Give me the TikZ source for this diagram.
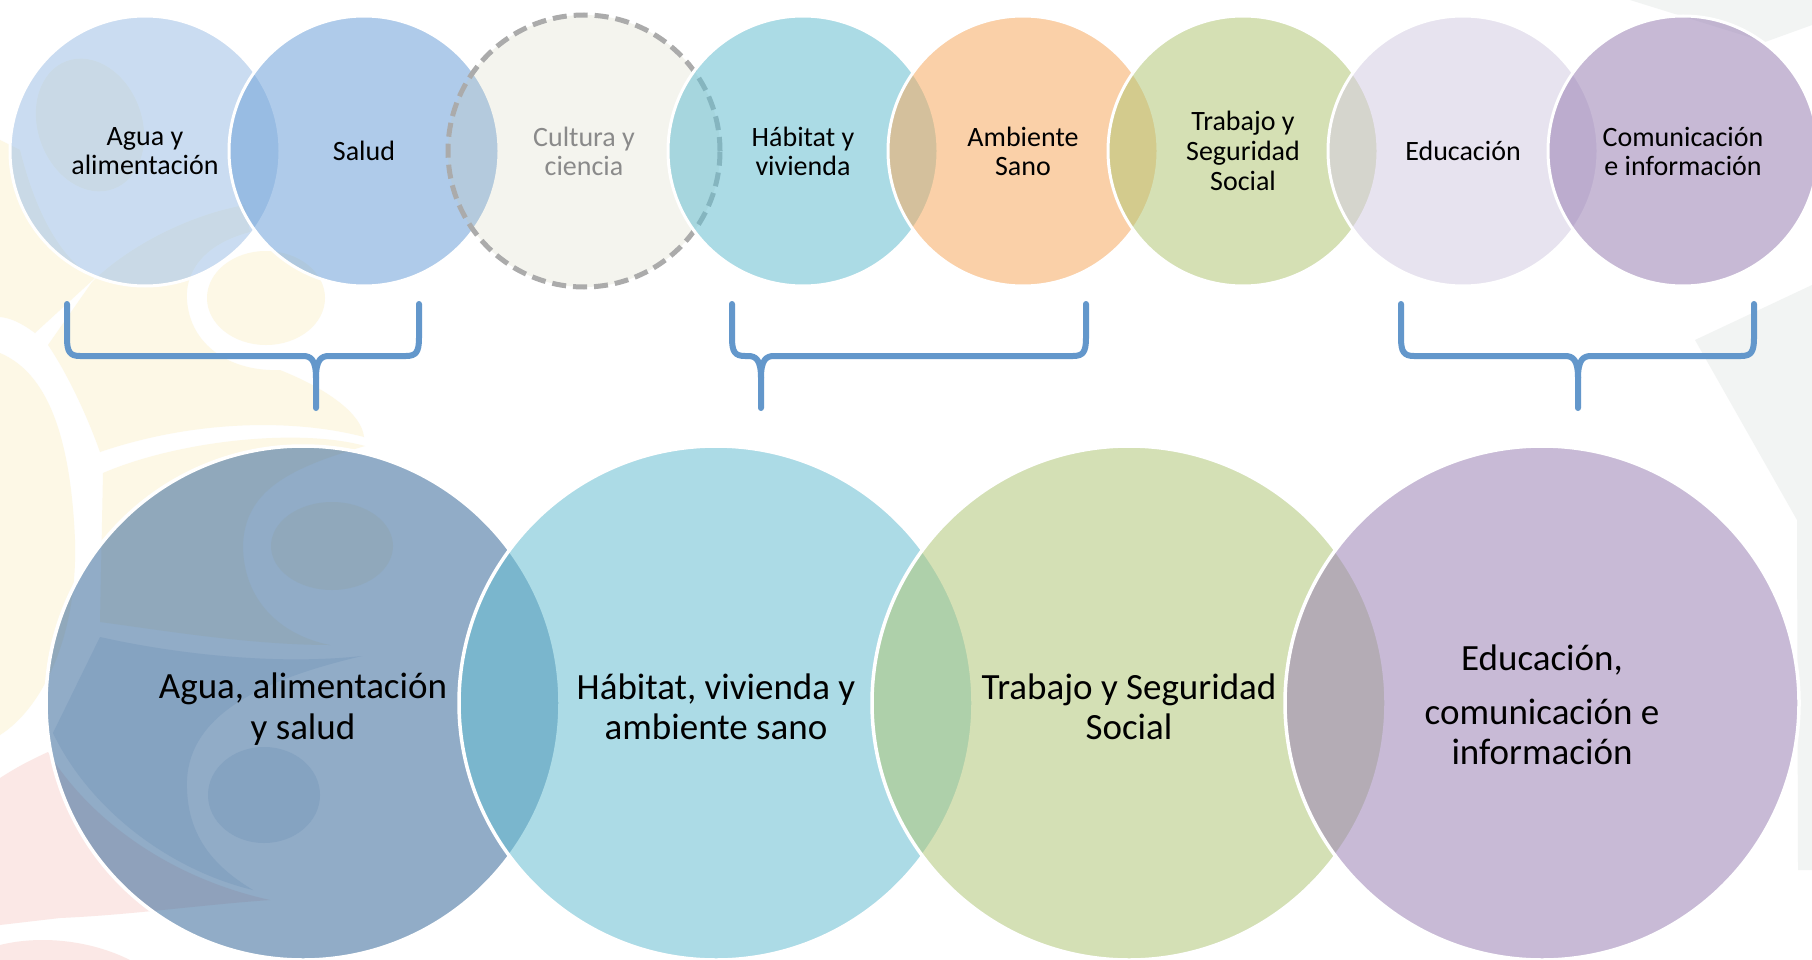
\documentclass[tikz,border=0pt]{standalone}
\usepackage{fontspec}
\setmainfont{Carlito}
\definecolor{cAgua}{HTML}{A0C1E6}
\definecolor{cSalud}{HTML}{6FA2D9}
\definecolor{cCult}{HTML}{C8C8AA}
\definecolor{cHab}{HTML}{66BED1}
\definecolor{cAmb}{HTML}{F6AB61}
\definecolor{cTrab}{HTML}{B3C777}
\definecolor{cEdu}{HTML}{D5CCE2}
\definecolor{cCom}{HTML}{9980B4}
\definecolor{bAgua}{HTML}{376899}
\definecolor{bHab}{HTML}{68BFD3}
\definecolor{bTrab}{HTML}{B1C779}
\definecolor{bEdu}{HTML}{9B83B6}
\definecolor{brk}{HTML}{6397CB}
\definecolor{dashgray}{HTML}{ABABAB}
\definecolor{culttext}{HTML}{8A8A8A}
\definecolor{wmY}{HTML}{FDF8E6}
\definecolor{wmP}{HTML}{FBE8E6}
\definecolor{wmB}{HTML}{E4EBF3}
\definecolor{wmG}{HTML}{F2F4F3}
\tikzset{
  topc/.style={circle, minimum size=270pt, inner sep=0pt, draw=white, line width=3pt,
    fill opacity=0.55},
  bigc/.style={circle, minimum size=514pt, inner sep=0pt, draw=white, line width=3.5pt,
    fill opacity=0.55},
  ttop/.style={align=center, inner sep=0pt, font=\fontsize{28}{29}\selectfont},
  tbig/.style={align=center, inner sep=0pt, font=\fontsize{37}{40.5}\selectfont},
  brace/.style={draw=brk, line width=6pt, line cap=round, line join=round},
}
\newcommand\mybrace[3]{%
  \draw[brace] (#1,304) -- (#1,338) .. controls (#1,352) and (#1+3,356) .. (#1+13,356)
     -- (#2-13,356) .. controls (#2-5,356) and (#2,360) .. (#2,378) -- (#2,408);
  \draw[brace] (#3,304) -- (#3,338) .. controls (#3,352) and (#3-3,356) .. (#3-13,356)
     -- (#2+13,356) .. controls (#2+5,356) and (#2,360) .. (#2,378);
}
\begin{document}
\begin{tikzpicture}[x=1pt,y=-1pt]
\useasboundingbox (0,0) rectangle (1812,960);
\clip (0,0) rectangle (1812,960);
\fill[white] (0,0) rectangle (1812,960);
% ---- watermark (background) ----
\fill[wmY, rotate around={20:(90,125)}] (90,125) ellipse [x radius=52, y radius=68];
\fill[wmY] (0,140) -- (20,150) .. controls (40,230) and (70,265) .. (95,278)
   -- (35,333) .. controls (20,322) and (10,318) .. (0,317) -- cycle;
\fill[wmY] (48,345) -- (92,282) .. controls (130,245) and (190,215) .. (245,205)
   -- (250,232) .. controls (200,245) and (185,275) .. (187,300)
   .. controls (190,345) and (230,372) .. (280,370)
   .. controls (330,390) and (362,415) .. (364,437)
   .. controls (300,420) and (200,418) .. (100,452)
   .. controls (85,410) and (65,370) .. (48,345) -- cycle;
\fill[wmY] (266,298) ellipse [x radius=59, y radius=47];
\fill[wmY] (0,353) .. controls (40,370) and (70,420) .. (75,540)
   .. controls (78,640) and (40,710) .. (0,735) -- cycle;
\fill[wmY] (103,473) .. controls (180,440) and (300,428) .. (365,446)
   .. controls (290,468) and (245,490) .. (243,545)
   .. controls (243,600) and (280,635) .. (330,645)
   .. controls (250,645) and (160,630) .. (100,622) -- cycle;
\fill[wmY] (332,546) ellipse [x radius=61, y radius=44];
\fill[wmP] (0,778) .. controls (20,765) and (35,758) .. (48,752)
   .. controls (90,820) and (170,878) .. (270,900)
   .. controls (200,905) and (130,915) .. (60,918) -- (0,925) -- cycle;
\fill[wmP] (0,945) .. controls (40,935) and (90,940) .. (130,960) -- (0,960) -- cycle;
\fill[wmB] (100,637) .. controls (180,655) and (280,665) .. (362,656)
   .. controls (260,680) and (190,715) .. (187,780)
   .. controls (185,840) and (220,870) .. (253,890)
   .. controls (170,870) and (90,810) .. (53,733) -- cycle;
\fill[wmB] (264,795) ellipse [x radius=56, y radius=48];
\fill[wmG] (1630,0) -- (1812,0) -- (1812,25) -- (1765,42) -- cycle;
\fill[wmG] (1695,340) -- (1812,285) -- (1812,870) -- (1798,870) -- (1797,520) -- cycle;
% ---- top row ----
\node[topc, fill=cAgua]  (agua)  at (145,151) {};
\node[topc, fill=cSalud] (salud) at (364,151) {};
\node[circle, minimum size=272pt, inner sep=0pt, draw=dashgray, line width=5pt,
      dash pattern=on 14pt off 7pt, fill=cCult, fill opacity=0.2]
      (cult) at (584,151) {};
\node[topc, fill=cHab]   (hab)   at (803,151) {};
\node[topc, fill=cAmb]   (amb)   at (1023,151) {};
\node[topc, fill=cTrab]  (trab)  at (1243,151) {};
\node[topc, fill=cEdu]   (edu)   at (1463,151) {};
\node[topc, fill=cCom]   (com)   at (1683,151) {};
% ---- bottom row ----
\node[bigc, fill=bAgua] (Bagua) at (303,703) {};
\node[bigc, fill=bHab]  (Bhab)  at (716,703) {};
\node[bigc, fill=bTrab] (Btrab) at (1129,703) {};
\node[bigc, fill=bEdu]  (Bedu)  at (1542,703) {};
% ---- texts ----
\node[ttop] (agua-t)  at (agua)  {Agua y\\alimentación};
\node[ttop] (salud-t) at (salud) {Salud};
\node[ttop, text=culttext] (cult-t) at (cult) {Cultura y\\ciencia};
\node[ttop] (hab-t)   at (hab)   {Hábitat y\\vivienda};
\node[ttop] (amb-t)   at (amb)   {Ambiente\\Sano};
\node[ttop, font=\fontsize{28}{30}\selectfont] (trab-t) at (trab) {Trabajo y\\Seguridad\\Social};
\node[ttop] (edu-t)   at (edu)   {Educación};
\node[ttop] (com-t)   at (com)   {Comunicación\\e información};
\node[tbig, yshift=-6pt] (Bagua-t) at (Bagua) {Agua, alimentación\\y salud};
\node[tbig, yshift=-4pt] (Bhab-t)  at (Bhab)  {Hábitat, vivienda y\\ambiente sano};
\node[tbig, yshift=-4pt] (Btrab-t) at (Btrab) {Trabajo y Seguridad\\Social};
\node[tbig, yshift=-2pt] (Bedu-t)  at (Bedu)  {Educación,\\[13pt]comunicación e\\información};
% ---- braces ----
\mybrace{67}{316}{419}
\mybrace{732}{761}{1086}
\mybrace{1401}{1578}{1754}
\end{tikzpicture}
\end{document}
